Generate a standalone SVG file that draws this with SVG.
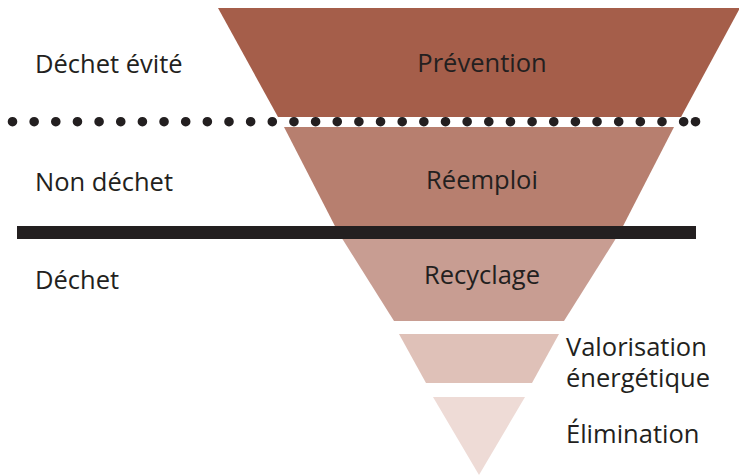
<svg xmlns="http://www.w3.org/2000/svg" width="739" height="475" viewBox="0 0 739 475">
<style>
.t{font-family:"Open Sans","Noto Sans","Liberation Sans",sans-serif;font-size:25.5px;fill:#231F20}
.c{text-anchor:middle}
</style>
<rect width="739" height="475" fill="#FFFFFF"/>
<g id="prevention">
<polygon points="218,8 740,8 681,117 278,117" fill="#A55E4A"/>
<text class="t c" x="482" y="72">Prévention</text>
</g>
<g id="reemploi">
<polygon points="284,127 674,127 620,232 338,232" fill="#B77F6F"/>
<text class="t c" x="482" y="189">Réemploi</text>
</g>
<g id="recyclage">
<polygon points="338,232 620,232 564,321 394,321" fill="#C89D92"/>
<text class="t c" x="482" y="284">Recyclage</text>
</g>
<g id="valorisation">
<polygon points="399,334 559,334 532,383 426,383" fill="#DFC1B8"/>
<text class="t" x="566" y="356">Valorisation</text>
<text class="t" x="566" y="387">énergétique</text>
</g>
<g id="elimination">
<polygon points="433,397 525,397 479,475" fill="#EEDBD6"/>
<text class="t" x="566" y="443">Élimination</text>
</g>
<g id="labels">
<text class="t" x="35" y="73">Déchet évité</text>
<text class="t" x="35" y="191">Non déchet</text>
<text class="t" x="35" y="289">Déchet</text>
</g>
<g id="separators">
<line x1="12.5" y1="121.7" x2="684" y2="121.7" stroke="#231F20" stroke-width="9.6" stroke-linecap="round" stroke-dasharray="0 21.65"/>
<circle cx="695.5" cy="121.7" r="4.8" fill="#231F20"/>
<rect x="17" y="226" width="679" height="13" fill="#231F20"/>
</g>
</svg>
